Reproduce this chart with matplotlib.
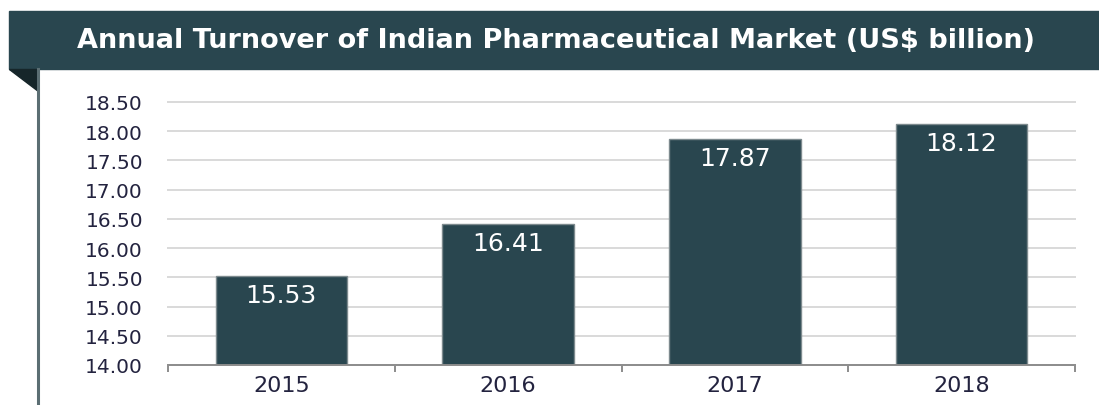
import matplotlib.pyplot as plt
from matplotlib.patches import Rectangle, Polygon
from matplotlib.lines import Line2D

years = ["2015", "2016", "2017", "2018"]
turnover = [15.53, 16.41, 17.87, 18.12]
y_ticks = [14.00, 14.50, 15.00, 15.50, 16.00, 16.50, 17.00, 17.50, 18.00, 18.50]
title = "Annual Turnover of Indian Pharmaceutical Market (US$ billion)"

W, H = 1099, 406
dark = "#29464f"
label_col = "#23233f"

fig = plt.figure(figsize=(W / 100, H / 100), dpi=100)


def fx(px):
    return px / W


def fy(py):
    return 1 - py / H


# title banner, the little corner triangle and the left rule
fig.patches.append(Rectangle((fx(9), fy(70)), fx(W) - fx(9), fy(12) - fy(70),
                             transform=fig.transFigure, color=dark, zorder=0))
fig.patches.append(Polygon([(fx(9), fy(70)), (fx(38), fy(70)), (fx(38), fy(92))],
                           transform=fig.transFigure, color="#16262a", zorder=1))
fig.lines.append(Line2D([fx(38), fx(38)], [fy(70), 0], transform=fig.transFigure,
                        color="#5b6e73", lw=2.2))
fig.text(fx(556), fy(41), title, color="white", fontsize=19.5, fontweight="bold",
         family="DejaVu Sans", ha="center", va="center")

ax = fig.add_axes([fx(168), fy(366), fx(1075) - fx(168), fy(103) - fy(366)])
pos = list(range(len(years)))
ax.bar(pos, turnover, width=0.58, color=dark, edgecolor="#7d8a8e", linewidth=1.0,
       zorder=3)
for x, v in zip(pos, turnover):
    ax.annotate(f"{v:.2f}", (x, v), xytext=(0, -19 * 0.72), textcoords="offset points",
                ha="center", va="center", color="white", fontsize=18, zorder=4)

ax.set_ylim(14, 18.5)
ax.set_xlim(-0.5, 3.5)
ax.set_yticks(y_ticks)
ax.set_yticklabels([f"{t:.2f}" for t in y_ticks])
ax.set_xticks(pos)
ax.set_xticklabels(years)
ax.set_xticks([p - 0.5 for p in pos] + [3.5], minor=True)

ax.grid(axis="y", color="#d9d9d9", lw=1.4, zorder=0)
for g in ax.get_ygridlines():
    g.set_clip_on(False)
for s in ["top", "right", "left"]:
    ax.spines[s].set_visible(False)
ax.spines["bottom"].set_color("#8c8c8c")
ax.spines["bottom"].set_linewidth(1.4)
ax.spines["bottom"].set_zorder(3.5)

ax.tick_params(axis="y", length=0, pad=18, labelsize=14.5, labelcolor=label_col)
ax.tick_params(axis="x", which="major", length=0, pad=7, labelsize=16,
               labelcolor=label_col)
ax.tick_params(axis="x", which="minor", length=5, width=1.4, color="#8c8c8c")

fig.savefig("out.png", dpi=100)
